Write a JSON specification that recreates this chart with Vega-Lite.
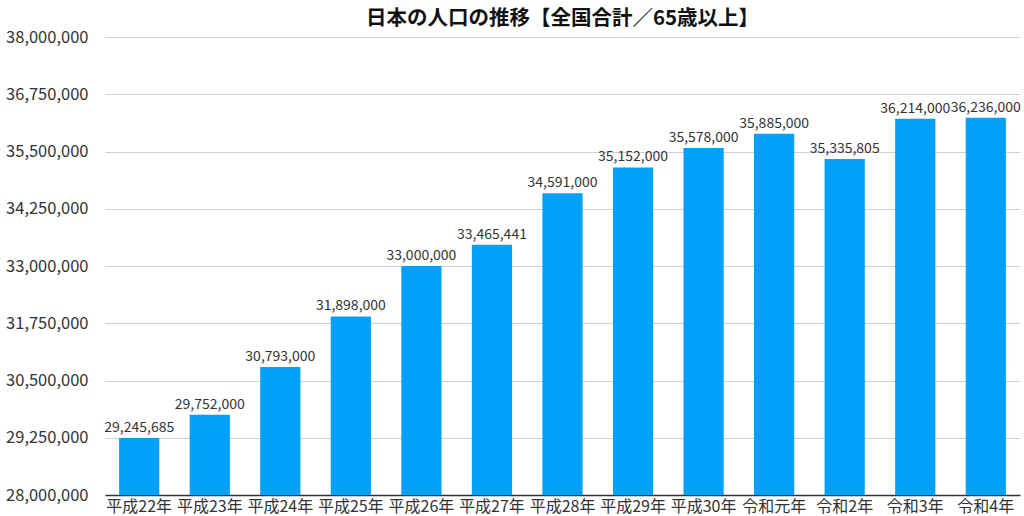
{
  "$schema": "https://vega.github.io/schema/vega-lite/v6.json",
  "autosize": "none",
  "width": 915,
  "height": 458,
  "padding": {"left": 105, "top": 37, "right": 4, "bottom": 21},
  "background": "white",
  "title": {"text": "日本の人口の推移【全国合計／65歳以上】", "font": "Noto Sans CJK JP", "fontSize": 20.5, "fontWeight": "bold", "color": "#111", "anchor": "middle", "offset": 0},
  "config": {"view": {"stroke": null}, "font": "Noto Sans CJK JP"},
  "data": {"values": [
    {"year": "平成22年", "value": 29245685},
    {"year": "平成23年", "value": 29752000},
    {"year": "平成24年", "value": 30793000},
    {"year": "平成25年", "value": 31898000},
    {"year": "平成26年", "value": 33000000},
    {"year": "平成27年", "value": 33465441},
    {"year": "平成28年", "value": 34591000},
    {"year": "平成29年", "value": 35152000},
    {"year": "平成30年", "value": 35578000},
    {"year": "令和元年", "value": 35885000},
    {"year": "令和2年", "value": 35335805},
    {"year": "令和3年", "value": 36214000},
    {"year": "令和4年", "value": 36236000}
  ]},
  "encoding": {
    "x": {"field": "year", "type": "nominal", "sort": null, "title": null,
      "scale": {"paddingInner": 0.43, "paddingOuter": 0.2},
      "axis": {"labelAngle": 0, "labelFontSize": 16, "labelColor": "#333", "domainColor": "#333", "domainWidth": 1.5, "ticks": false, "labelPadding": 3, "grid": false}},
    "y": {"field": "value", "type": "quantitative", "title": null,
      "scale": {"domain": [28000000, 38000000], "nice": false, "zero": false},
      "axis": {"values": [28000000, 29250000, 30500000, 31750000, 33000000, 34250000, 35500000, 36750000, 38000000], "format": ",d", "labelFontSize": 16.5, "labelColor": "#333", "domain": false, "ticks": false, "labelPadding": 17, "gridColor": "#d0d0d0"}}
  },
  "layer": [
    {"mark": {"type": "bar", "color": "#03a0fa", "clip": true}},
    {"mark": {"type": "text", "dy": -10, "fontSize": 14, "color": "#333"}, "encoding": {"text": {"field": "value", "type": "quantitative", "format": ",d"}}}
  ]
}
